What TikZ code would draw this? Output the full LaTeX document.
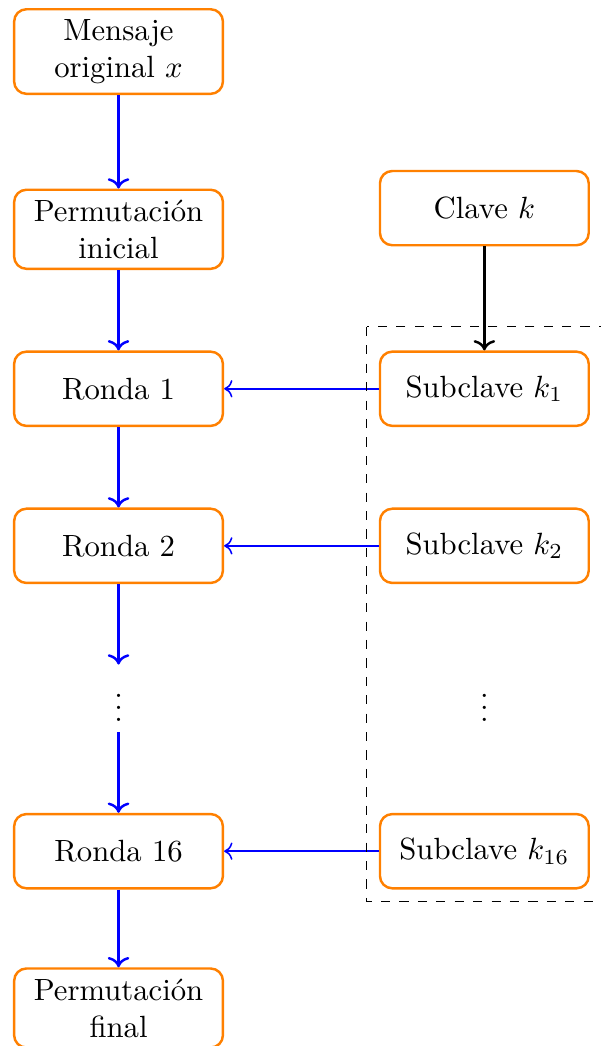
\documentclass[tikz,border=0pt]{standalone}
\usepackage{fontspec}
\usetikzlibrary{arrows.meta,positioning}

\begin{document}
\begin{tikzpicture}[node distance=9.2mm, >=To,
    block/.style = {draw=orange, thick, rectangle, rounded corners, minimum height=8.5mm, minimum width=23.9mm, align=center},]
    \useasboundingbox (0,0) rectangle (6.87,-11.975);
    \node [block] (msg) at (1.357,-0.59) {Mensaje\\original $x$};
    \node [block, below=10.7mm of msg] (perm_ini) {Permutación\\inicial};
    \node [block, below=of perm_ini] (ronda1) {Ronda 1};
    \node [block, below=of ronda1] (ronda2) {Ronda 2};
    \node [below=of ronda2] (dots_l) {$\vdots$};
    \node [block, below=of dots_l] (ronda16) {Ronda 16};
    \node [block, below=8.9mm of ronda16] (perm_fin) {Permutación\\final};
    \node [block, right=17.7mm of ronda1] (sub1) {Subclave $k_1$};
    \node [block, above=11.9mm of sub1] (clave) {Clave $k$};
    \node [block, right=17.7mm of ronda2] (sub2) {Subclave $k_2$};
    \node at (sub2 |- dots_l) (dots_r) {$\vdots$};
    \node [block, right=17.7mm of ronda16] (sub16) {Subclave $k_{16}$};
    \draw[->, thick, blue] (msg) edge (perm_ini);
    \draw[->, thick, blue] (perm_ini) edge (ronda1);
    \draw[->, thick, blue] (ronda1) edge (ronda2);
    \draw[->, thick, blue] (ronda2) edge (dots_l);
    \draw[->, thick, blue] (dots_l) edge (ronda16);
    \draw[->, thick, blue] (ronda16) edge (perm_fin);
    \draw[->, thick] (clave) edge (sub1);
    \draw[->, blue, line width=0.5pt] (sub1) edge (ronda1);
    \draw[->, blue, line width=0.5pt] (sub2) edge (ronda2);
    \draw[->, blue, line width=0.5pt] (sub16) edge (ronda16);
    \draw[dashed] ([shift={(-0.14,0.27)}]sub1.north west) rectangle ([shift={(0.15,-0.14)}]sub16.south east);
  \end{tikzpicture}
\end{document}
